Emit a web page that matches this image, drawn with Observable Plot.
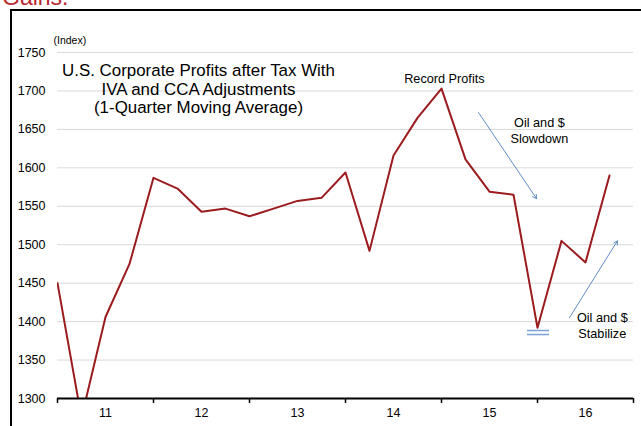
<!DOCTYPE html>
<html>
<head>
<meta charset="utf-8">
<script src="https://cdn.jsdelivr.net/npm/d3@7"></script>
<script src="https://cdn.jsdelivr.net/npm/@observablehq/plot@0.6"></script>
<style>
  html, body { margin: 0; padding: 0; background: #fff; }
  #wrap { position: relative; width: 641px; height: 426px; overflow: hidden; font-family: "Liberation Sans", Arial, sans-serif; }
  #gains { position: absolute; left: 2px; top: -14px; font-size: 23px; color: #b8282e; line-height: 1; }
  #frame { position: absolute; left: 10px; top: 9px; width: 640px; height: 430px; border-left: 2.5px solid #000; border-top: 2.5px solid #000; box-sizing: border-box; }
  #chart { position: absolute; left: 0; top: 0; }
</style>
</head>
<body>
<div id="wrap">
  <div id="gains">Gains.</div>
  <div id="frame"></div>
  <div id="chart"></div>
</div>
<script>
// Quarters 2011Q1 .. 2016Q4 (index 0..23)
const quarterIndex = d3.range(24);
const profits = [1450, 1275, 1406, 1475, 1587, 1573, 1543, 1547, 1537, 1547, 1557, 1561,
                 1594, 1492, 1616, 1665, 1703, 1611, 1569, 1565, 1392, 1505, 1477, 1590];
const yearLabels = ["11", "12", "13", "14", "15", "16"];
const yearCenters = [2, 6, 10, 14, 18, 22];
const yearBounds = [0, 4, 8, 12, 16, 20, 24];
const yTicks = [1300, 1350, 1400, 1450, 1500, 1550, 1600, 1650, 1700, 1750];

const titleText = ["U.S. Corporate Profits after Tax With\nIVA and CCA Adjustments\n(1-Quarter Moving Average)"];
const titlePos = {x: 5.875, y: 1703};
const notes = [
  {text: "Record Profits", x: 16.12, y: 1717},
  {text: "Oil and $\nSlowdown", x: 20.08, y: 1649},
  {text: "Oil and $\nStabilize", x: 22.7, y: 1395.5}
];
const arrows = [
  {x1: 17.54, y1: 1672, x2: 19.96, y2: 1560},
  {x1: 21.33, y1: 1405, x2: 23.33, y2: 1505}
];
const troughMarks = [
  {x1: 19.58, x2: 20.5, y: 1388.4},
  {x1: 19.58, x2: 20.5, y: 1383.2}
];

const data = quarterIndex.map((q, i) => ({q, v: profits[i]}));
const yearData = yearLabels.map((label, i) => ({label, x: yearCenters[i], y: 1300}));
const boundData = yearBounds.map(x => ({x, y: 1300}));

const chart = Plot.plot({
  width: 641,
  height: 426,
  marginLeft: 57,
  marginRight: 8,
  marginTop: 52,
  marginBottom: 28,
  style: {fontFamily: "Liberation Sans, Arial, sans-serif", fontSize: "12px", color: "#000", background: "transparent", overflow: "visible"},
  x: {type: "linear", domain: [0, 24], axis: null},
  y: {type: "linear", domain: [1300, 1750], axis: null},
  marks: [
    Plot.ruleY(yTicks.filter(d => d > 1300), {stroke: "#d9d9d9", strokeWidth: 1}),
    Plot.axisY(yTicks, {tickSize: 0, tickPadding: 12, fontSize: 12.5, label: null, tickFormat: d => String(d)}),
    Plot.text(["(Index)"], {frameAnchor: "top-left", dx: -4, dy: -16, fontSize: 10.5, textAnchor: "start"}),
    Plot.line(data, {x: "q", y: "v", stroke: "#9b1c1f", strokeWidth: 2, clip: true}),
    Plot.ruleY([1300], {stroke: "#000", strokeWidth: 2}),
    Plot.ruleX(boundData, {x: "x", y1: "y", y2: "y", stroke: "#000", strokeWidth: 1.5, insetBottom: -5}),
    Plot.text(yearData, {x: "x", y: "y", text: "label", dy: 14, fontSize: 12.5, fill: "#000"}),
    Plot.text(titleText, {x: titlePos.x, y: titlePos.y, fontSize: 16.9, lineHeight: 1.1, text: d => d, fill: "#000"}),
    Plot.text(notes, {x: "x", y: "y", text: "text", fontSize: 12.7, lineHeight: 1.2, fill: "#000"}),
    Plot.arrow(arrows, {x1: "x1", y1: "y1", x2: "x2", y2: "y2", stroke: "#4f81bd", strokeWidth: 0.9, headLength: 7}),
    Plot.ruleY(troughMarks, {x1: "x1", x2: "x2", y: "y", stroke: "#7fa6d6", strokeWidth: 1.6})
  ]
});
document.getElementById("chart").appendChild(chart);
</script>
</body>
</html>
